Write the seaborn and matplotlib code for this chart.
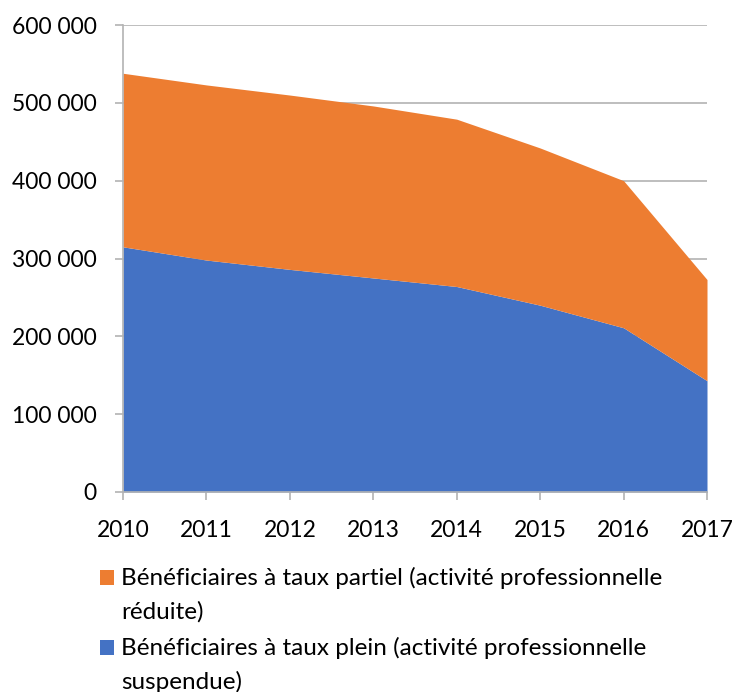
import matplotlib
matplotlib.use("Agg")
import matplotlib.pyplot as plt
import seaborn as sns
import numpy as np
from matplotlib.patches import Rectangle

years = [2010, 2011, 2012, 2013, 2014, 2015, 2016, 2017]
taux_plein = [315000, 298000, 286000, 275000, 264000, 240000, 211000, 143000]
taux_partiel = [223000, 225000, 224000, 221000, 215000, 202000, 189000, 130000]
yticks = [0, 100000, 200000, 300000, 400000, 500000, 600000]

label_partiel = "Bénéficiaires à taux partiel (activité professionnelle\nréduite)"
label_plein = "Bénéficiaires à taux plein (activité professionnelle\nsuspendue)"

blue = "#4472C4"
orange = "#ED7D31"
grid_col = "#B3B3B3"
W, H = 736, 692

sns.set_theme(style="white")
plt.rcParams["font.family"] = ["Lato", "DejaVu Sans"]

fig = plt.figure(figsize=(W / 100, H / 100), dpi=100)
ax = fig.add_axes([123 / W, 1 - 492 / H, (707 - 123) / W, (492 - 25) / H])

ax.stackplot(years, taux_plein, taux_partiel, colors=[blue, orange],
             linewidth=0, zorder=2)

ax.set_xlim(years[0], years[-1])
ax.set_ylim(0, 600000)
ax.set_yticks(yticks)
ax.set_yticklabels(["{:,}".format(v).replace(",", " ") for v in yticks])
ax.set_xticks(years)
ax.set_xticklabels([str(y) for y in years])

for v in yticks[1:]:
    ax.axhline(v, color=grid_col, lw=1.2, zorder=1)

for s in ["top", "right"]:
    ax.spines[s].set_visible(False)
for s in ["left", "bottom"]:
    ax.spines[s].set_color(grid_col)
    ax.spines[s].set_linewidth(1.2)
    ax.spines[s].set_zorder(3)

ax.tick_params(axis="both", which="both", direction="out", length=6, width=1.2,
               color=grid_col, labelsize=16.5, labelcolor="black")
ax.tick_params(axis="x", pad=14, bottom=True)
ax.tick_params(axis="y", pad=13, left=True)

# legend drawn by hand so the squares sit on the first line of each label
for label, col, y_base in [(label_partiel, orange, 585), (label_plein, blue, 655)]:
    fig.add_artist(Rectangle((100 / W, 1 - y_base / H), 14 / W, 15 / H,
                             transform=fig.transFigure, color=col, lw=0))
    for i, line in enumerate(label.split("\n")):
        fig.text(121 / W, 1 - (y_base + 34 * i) / H, line, fontsize=17.5,
                 va="baseline", ha="left", color="black")

fig.savefig("out.png", dpi=100)
